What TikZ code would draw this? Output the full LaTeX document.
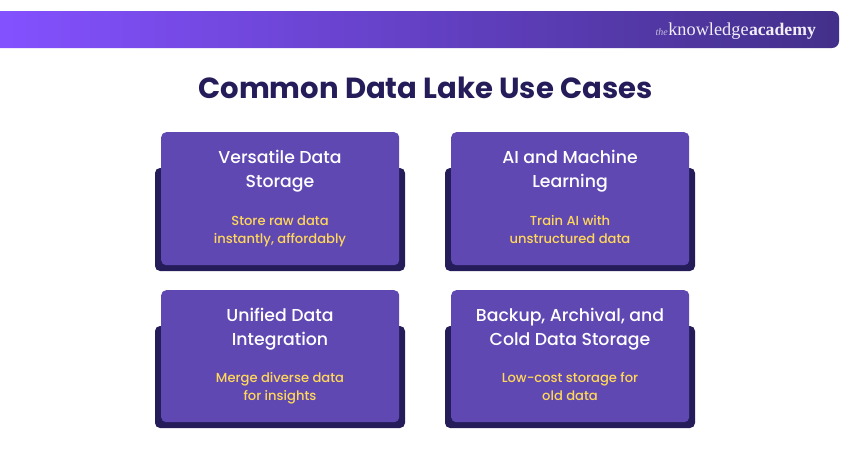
\documentclass[tikz,border=0pt]{standalone}
\usepackage{fontspec}
\setmainfont{Poppins}
\newfontfamily\poppinsmed{Poppins Medium}
\newfontfamily\logofont{Liberation Serif}
\definecolor{dark}{HTML}{251D5A}
\definecolor{panel}{HTML}{5F48B2}
\definecolor{sub}{HTML}{FFD75A}
\definecolor{bannerL}{HTML}{8451FF}
\definecolor{bannerR}{HTML}{43308A}
\definecolor{logotxt}{HTML}{F2EEFA}
\tikzset{
  back/.style={fill=dark,rounded corners=5pt,draw=none},
  front/.style={fill=panel,rounded corners=5pt,draw=none},
  head/.style={text=white,font=\poppinsmed\fontsize{17.3}{24}\selectfont,align=center,inner sep=0pt},
  subt/.style={text=sub,font=\poppinsmed\fontsize{13.1}{18}\selectfont,align=center,inner sep=0pt},
  logo/.style={text=logotxt,inner sep=0pt,anchor=base west}
}
\newcommand{\usecase}[9]{%
  % #1 name, #2 left x, #3 top y, #4 #5 heading lines, #6 #7 subtitle lines, #8 subtitle offset, #9 panel height
  \path[back] (#2-6,#3+36) rectangle (#2+244,#3+#9+6);
  \node[front,minimum width=238pt,minimum height=#9pt,anchor=north west] (#1) at (#2,#3) {};
  \node[head] (#1h) at (#2+119,#3+39) {\strut #4\\#5\strut};
  \node[subt] (#1s) at (#2+119,#3+#8) {\strut #6\\#7\strut};
}
\begin{document}
\begin{tikzpicture}[x=1pt,y=-1pt]
\useasboundingbox (0,0) rectangle (850,450);
\begin{scope}
  \clip[rounded corners=7pt] (-20,11) rectangle (839,48);
  \shade[left color=bannerL,right color=bannerR,middle color=bannerL!50!bannerR]
    (0,11) rectangle (839,48);
\end{scope}
\node[logo,font=\logofont\itshape\fontsize{10}{12}\selectfont,text=logotxt!75!bannerR] (the) at (655.5,35) {the};
\node[logo,font=\logofont\fontsize{18.3}{20}\selectfont] (know) at (the.base east) {knowledge};
\node[logo,font=\logofont\bfseries\fontsize{17.7}{20}\selectfont] (acad) at (know.base east) {academy};
\node[text=dark,font=\bfseries\fontsize{29.1}{36}\selectfont,inner sep=0pt] (title) at (425.5,88) {Common Data Lake Use Cases};
\usecase{a}{161}{132}{Versatile Data}{Storage}{Store raw data}{instantly, affordably}{99}{133}
\usecase{b}{451}{132}{AI and Machine}{Learning}{Train AI with}{unstructured data}{99}{133}
\usecase{c}{161}{290}{Unified Data}{Integration}{Merge diverse data}{for insights}{98}{132}
\usecase{d}{451}{290}{Backup, Archival, and}{Cold Data Storage}{Low-cost storage for}{old data}{98}{132}
\end{tikzpicture}
\end{document}
